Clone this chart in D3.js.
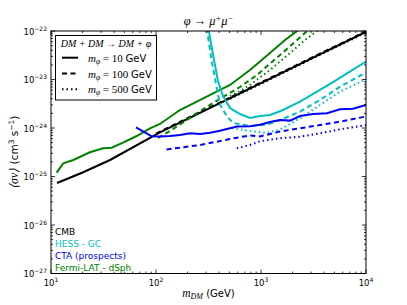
<!DOCTYPE html>
<html>
<head>
<meta charset="utf-8">
<script src="https://cdn.jsdelivr.net/npm/d3@7"></script>
<style>
	body { margin: 0; background: #fff; }
	svg { display: block; }
	text { font-family: "DejaVu Sans", sans-serif; }
	.math { font-family: "Liberation Serif", serif; font-style: italic; }
</style>
</head>
<body>
<svg id="chart"></svg>
<script>
// x tick exponents (10^n GeV) and y tick exponents (10^n cm^3 s^-1)
const xExps = [1, 2, 3, 4];
const yExps = [-22, -23, -24, -25, -26, -27];

// CMB
const cmbMass10 = [11.4, 20, 36.5, 109, 300, 1000, 3000, 10000];
const cmbSv10 = [7.35e-26, 1.21e-25, 2.19e-25, 8.1e-25, 2.37e-24, 8.45e-24, 2.7e-23, 9.6e-23];
const cmbMass100 = [100, 300, 1000, 3000, 10000];
const cmbSv100 = [7.65e-25, 2.45e-24, 8.7e-24, 2.78e-23, 9.8e-23];
const cmbMass500 = [507, 1000, 3000, 10000];
const cmbSv500 = [4.0e-24, 8.2e-24, 2.62e-23, 9.3e-23];

// Fermi-LAT dSph
const fermiMass10 = [11.3, 13.1, 16.3, 23.5, 31.3, 37.8, 48.5, 65.5, 87.7, 109, 169, 304, 507, 785, 1218, 1694, 2203, 2930];
const fermiSv10 = [1.2e-25, 1.87e-25, 2.19e-25, 3.16e-25, 3.81e-25, 3.92e-25, 4.98e-25, 6.84e-25, 9.86e-25, 1.21e-24, 2.35e-24, 4.42e-24, 7.71e-24, 1.57e-23, 3.52e-23, 6.52e-23, 1e-22, 2.14e-22];
const fermiMass100 = [104.5, 136, 189, 281, 435, 631, 916, 1517, 2108, 2742, 3490];
const fermiSv100 = [6.22e-25, 8.67e-25, 1.39e-24, 2.46e-24, 4.36e-24, 7.0e-24, 1.24e-23, 3.2e-23, 5.93e-23, 1e-22, 1.69e-22];
const fermiMass500 = [507, 631, 785, 1218, 1890, 2626, 3413, 4345];
const fermiSv500 = [4.57e-24, 5.79e-24, 7.71e-24, 1.57e-23, 3.52e-23, 6.52e-23, 1e-22, 1.69e-22];

// HESS GC
const hessMass10 = [293, 315, 349, 389, 435, 507, 631, 785, 977, 1218, 1621, 2350, 3646, 4852, 6596, 10000];
const hessSv10 = [1.69e-22, 1.15e-22, 3.25e-23, 9.31e-24, 4.57e-24, 2.58e-24, 1.94e-24, 1.61e-24, 1.77e-24, 1.85e-24, 2.35e-24, 3.48e-24, 6.08e-24, 8.87e-24, 1.34e-23, 2.35e-23];
const hessMass100 = [287, 304, 339, 379, 407, 471, 541, 785, 1140, 1517, 2350, 3646, 5653, 10000];
const hessSv100 = [1.69e-22, 1.15e-22, 2.41e-23, 6.68e-24, 3.02e-24, 1.77e-24, 1.27e-24, 1.1e-24, 1.17e-24, 1.46e-24, 2.17e-24, 3.78e-24, 7.11e-24, 1.39e-23];
const hessMass500 = [530, 785, 1140, 1517, 2350, 3646, 5653, 10000];
const hessSv500 = [1.0e-24, 8.67e-25, 7.89e-25, 9.31e-25, 1.58e-24, 2.98e-24, 5.6e-24, 1.02e-23];

// CTA prospects
const ctaMass10 = [64.5, 91, 109, 136, 169, 211, 262, 327, 407, 507, 590, 785, 977, 1218, 1517, 1890, 2350, 3128, 4254, 5653, 7520, 10000];
const ctaSv10 = [1.03e-24, 6.75e-25, 6.7e-25, 6.84e-25, 7.18e-25, 7.78e-25, 7.52e-25, 7.95e-25, 8.79e-25, 9.86e-25, 1.07e-24, 1.09e-24, 1.17e-24, 1.33e-24, 1.46e-24, 1.42e-24, 1.77e-24, 1.94e-24, 2.01e-24, 2.43e-24, 2.5e-24, 2.98e-24];
const ctaMass100 = [126, 181, 262, 379, 541, 785, 977, 1517, 2350, 3646, 5653, 10000];
const ctaSv100 = [3.61e-25, 4.0e-25, 4.46e-25, 5.22e-25, 6.13e-25, 7.0e-25, 6.7e-25, 8.47e-25, 9.86e-25, 1.15e-24, 1.35e-24, 1.73e-24];
const ctaMass500 = [587, 785, 977, 1517, 2350, 3646, 5653, 10000];
const ctaSv500 = [3.81e-25, 4.46e-25, 5.32e-25, 6.16e-25, 6.6e-25, 7.78e-25, 9.4e-25, 1.15e-24];

const experiments = ['CMB', 'HESS - GC', 'CTA (prospects)', 'Fermi-LAT - dSph'];
const expColors = ['#000000', '#00bfbf', '#0000ff', '#008000'];
const mediators = ['10', '100', '500'];

const W = 407, H = 305;
const plotLeft = 51, plotRight = 366, plotTop = 31, plotBottom = 273.5;

const x = d3.scaleLog().domain([10, 1e4]).range([plotLeft, plotRight]);
const y = d3.scaleLog().domain([1e-27, 1e-22]).range([plotBottom, plotTop]);

const dashFor = {
	'10': null,
	'100': '5,3.5',
	'500': '1.5,3',
};

function makeSeries() {
	const list = [
		[0, '10', cmbMass10, cmbSv10], [0, '100', cmbMass100, cmbSv100], [0, '500', cmbMass500, cmbSv500],
		[3, '10', fermiMass10, fermiSv10], [3, '100', fermiMass100, fermiSv100], [3, '500', fermiMass500, fermiSv500],
		[1, '10', hessMass10, hessSv10], [1, '100', hessMass100, hessSv100], [1, '500', hessMass500, hessSv500],
		[2, '10', ctaMass10, ctaSv10], [2, '100', ctaMass100, ctaSv100], [2, '500', ctaMass500, ctaSv500],
	];
	return list.map(d => ({
		color: expColors[d[0]],
		dash: dashFor[d[1]],
		points: d[2].map((m, i) => [m, d[3][i]]),
	}));
}

function drawAxes(svg) {
	const majorX = xExps.map(e => Math.pow(10, e));
	const minorX = [];
	for (let e = 1; e < 4; e++) {
		for (let k = 2; k < 10; k++) minorX.push(k * Math.pow(10, e));
	}
	const majorY = yExps.map(e => Math.pow(10, e));
	const minorY = [];
	for (let e = -27; e < -22; e++) {
		for (let k = 2; k < 10; k++) minorY.push(k * Math.pow(10, e));
	}

	const g = svg.append('g').attr('stroke', '#000').attr('stroke-width', 0.8);
	const tick = (x1, y1, x2, y2) => g.append('line')
		.attr('x1', x1).attr('y1', y1).attr('x2', x2).attr('y2', y2);

	majorX.forEach(v => {
		tick(x(v), plotBottom, x(v), plotBottom - 4);
		tick(x(v), plotTop, x(v), plotTop + 4);
	});
	minorX.forEach(v => {
		tick(x(v), plotBottom, x(v), plotBottom - 2);
		tick(x(v), plotTop, x(v), plotTop + 2);
	});
	majorY.forEach(v => {
		tick(plotLeft, y(v), plotLeft + 4, y(v));
		tick(plotRight, y(v), plotRight - 4, y(v));
	});
	minorY.forEach(v => {
		tick(plotLeft, y(v), plotLeft + 2, y(v));
		tick(plotRight, y(v), plotRight - 2, y(v));
	});

	svg.append('rect')
		.attr('x', plotLeft).attr('y', plotTop)
		.attr('width', plotRight - plotLeft).attr('height', plotBottom - plotTop)
		.attr('fill', 'none').attr('stroke', '#000').attr('stroke-width', 1);

	xExps.forEach(e => {
		const t = svg.append('text')
			.attr('x', x(Math.pow(10, e))).attr('y', plotBottom + 12)
			.attr('text-anchor', 'middle').attr('font-size', 8.5);
		t.append('tspan').text('10');
		t.append('tspan').attr('font-size', 6).attr('dy', -4).text(e);
	});
	yExps.forEach(e => {
		const t = svg.append('text')
			.attr('x', plotLeft - 4).attr('y', y(Math.pow(10, e)) + 3.5)
			.attr('text-anchor', 'end').attr('font-size', 8.5);
		t.append('tspan').text('10');
		t.append('tspan').attr('font-size', 6).attr('dy', -4).text('\u2212' + (-e));
	});
}

function drawLabels(svg) {
	const title = svg.append('text')
		.attr('x', (plotLeft + plotRight) / 2).attr('y', 25)
		.attr('text-anchor', 'middle').attr('class', 'math').attr('font-size', 12.5);
	title.append('tspan').text('\u03c6 \u2192 \u03bc');
	title.append('tspan').attr('font-size', 8.5).attr('dy', -4.5).text('+');
	title.append('tspan').attr('dy', 4.5).text('\u03bc');
	title.append('tspan').attr('font-size', 8.5).attr('dy', -4.5).text('\u2212');

	const xl = svg.append('text')
		.attr('x', (plotLeft + plotRight) / 2).attr('y', 297)
		.attr('text-anchor', 'middle').attr('font-size', 10);
	xl.append('tspan').attr('class', 'math').attr('font-size', 11.5).text('m');
	xl.append('tspan').attr('class', 'math').attr('font-size', 8).attr('dy', 2).text('DM');
	xl.append('tspan').attr('dy', -2).text(' (GeV)');

	const yl = svg.append('text')
		.attr('transform', `translate(18,${(plotTop + plotBottom) / 2}) rotate(-90)`)
		.attr('text-anchor', 'middle').attr('font-size', 10.5);
	yl.append('tspan').attr('class', 'math').attr('font-size', 12).text('\u27e8\u03c3v\u27e9');
	yl.append('tspan').text(' (cm');
	yl.append('tspan').attr('font-size', 7.5).attr('dy', -4.5).text('3');
	yl.append('tspan').attr('dy', 4.5).text(' s');
	yl.append('tspan').attr('font-size', 7.5).attr('dy', -4.5).text('\u22121');
	yl.append('tspan').attr('dy', 4.5).text(')');

	experiments.forEach((name, i) => {
		svg.append('text')
			.attr('x', 55).attr('y', 235 + i * 12)
			.attr('font-size', 9)
			.attr('fill', expColors[i])
			.text(name);
	});
}

function drawLegend(svg) {
	const g = svg.append('g');
	g.append('rect')
		.attr('x', 55.5).attr('y', 35.5).attr('width', 101).attr('height', 64.5)
		.attr('fill', '#fff').attr('stroke', '#000').attr('stroke-width', 1);
	g.append('text')
		.attr('x', 106).attr('y', 46.5).attr('text-anchor', 'middle')
		.attr('class', 'math').attr('font-size', 10)
		.text('DM + DM \u2192 DM + \u03c6');
	mediators.forEach((m, i) => {
		const yy = 57.7 + i * 15.8;
		g.append('line')
			.attr('x1', 62).attr('x2', 78).attr('y1', yy).attr('y2', yy)
			.attr('stroke', '#000').attr('stroke-width', 2)
			.attr('stroke-dasharray', dashFor[m]);
		const t = g.append('text').attr('x', 88).attr('y', yy + 4).attr('font-size', 10);
		t.append('tspan').attr('class', 'math').attr('font-size', 11).text('m');
		t.append('tspan').attr('class', 'math').attr('font-size', 7.5).attr('dy', 2).text('\u03c6');
		t.append('tspan').attr('font-family', 'Liberation Serif, serif').attr('font-size', 11).attr('dy', -2).text(' = ' + m + ' ');
		t.append('tspan').text('GeV');
	});
}

function render() {
	const svg = d3.select('#chart').attr('width', W).attr('height', H);

	svg.append('clipPath').attr('id', 'plot-clip')
		.append('rect')
		.attr('x', plotLeft).attr('y', plotTop)
		.attr('width', plotRight - plotLeft).attr('height', plotBottom - plotTop);

	const line = d3.line().x(d => x(d[0])).y(d => y(d[1]));
	const series = makeSeries();

	svg.append('g').attr('clip-path', 'url(#plot-clip)')
		.selectAll('path')
		.data(series)
		.enter()
		.append('path')
		.attr('d', d => line(d.points))
		.attr('fill', 'none')
		.attr('stroke', d => d.color)
		.attr('stroke-width', 2)
		.attr('stroke-dasharray', d => d.dash);

	drawAxes(svg);
	drawLabels(svg);
	drawLegend(svg);
}

document.addEventListener('DOMContentLoaded', () => {
	render();
});
</script>
</body>
</html>
